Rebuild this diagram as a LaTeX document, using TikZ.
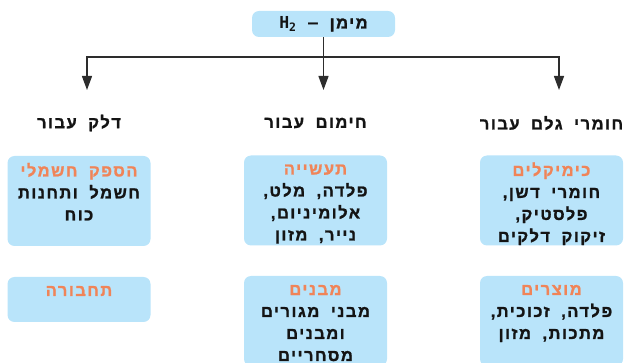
\documentclass[tikz,border=0pt]{standalone}
\usepackage{fontspec}
\setmainfont{Liberation Sans Bold}[Script=Hebrew, LetterSpace=9, WordSpace=1.9, FakeBold=1.3]
\newfontfamily\latinmono{DejaVu Sans Mono Bold}
\usetikzlibrary{arrows.meta}
\TeXXeTstate=1
\definecolor{boxblue}{RGB}{185,228,250}
\definecolor{titleorange}{RGB}{240,132,88}
\definecolor{txt}{RGB}{20,20,20}
\definecolor{linegray}{RGB}{45,45,45}
\newcommand{\heb}[1]{\beginR #1\endR}
\newcommand{\ttl}[1]{\textcolor{titleorange}{\rule{0pt}{12pt}\heb{#1}}}
\begin{document}
\begin{tikzpicture}[x=1pt,y=-1pt,
  every node/.style={font=\fontsize{16.5}{22}\selectfont, text=txt},
  bluebox/.style={fill=boxblue, rounded corners=7pt, minimum width=143pt, inner sep=0pt},
  boxtext/.style={anchor=north, align=center, inner sep=0pt, yshift=-7pt},
  conn/.style={draw=linegray, line width=1.3pt},
  arr/.style={conn, -{Triangle[length=14pt,width=10pt]}}
]
\clip (0,0) rectangle (624,363);
% top
\node[bluebox, minimum height=26pt] (top) at (323.5,24) {\beginR מימן {\latinmono –} \beginL{\latinmono H\textsubscript{2}}\endL\endR};
% headers
\node (hl) at (79,123) {\heb{דלק עבור}};
\node (hm) at (315.5,123) {\heb{חימום עבור}};
\node (hr) at (551.5,123) {\heb{חומרי גלם עבור}};
% connectors
\coordinate (jm) at (323.5,57);
\coordinate (tl) at (87,90);
\coordinate (tm) at (323.5,90);
\coordinate (tr) at (559,90);
\draw[arr] (top.south) -- (tm);
\draw[arr] (jm) -| (tl);
\draw[arr] (jm) -| (tr);
% boxes
\node[bluebox, minimum height=90pt] (l1) at (79,201) {};
\node[bluebox, minimum height=45pt] (l2) at (79,299.5) {};
\node[bluebox, minimum height=90pt] (m1) at (315.5,200.5) {};
\node[bluebox, minimum height=90pt] (m2) at (315.5,321) {};
\node[bluebox, minimum height=90pt] (r1) at (551.5,200.5) {};
\node[bluebox, minimum height=90pt] (r2) at (551.5,321) {};
% box texts
\node[boxtext] (l1t) at (l1.north) {\ttl{הספק חשמלי}\\ \heb{חשמל ותחנות}\\ \heb{כוח}};
\node[boxtext] (l2t) at (l2.north) {\ttl{תחבורה}};
\node[boxtext] (m1t) at (m1.north) {\ttl{תעשייה}\\ \heb{פלדה, מלט,}\\ \heb{אלומיניום,}\\ \heb{נייר, מזון}};
\node[boxtext] (m2t) at (m2.north) {\ttl{מבנים}\\ \heb{מבני מגורים}\\ \heb{ומבנים}\\ \heb{מסחריים}};
\node[boxtext] (r1t) at (r1.north) {\ttl{כימיקלים}\\ \heb{חומרי דשן,}\\ \heb{פלסטיק,}\\ \heb{זיקוק דלקים}};
\node[boxtext] (r2t) at (r2.north) {\ttl{מוצרים}\\ \heb{פלדה, זכוכית,}\\ \heb{מתכות, מזון}};
\end{tikzpicture}
\end{document}
